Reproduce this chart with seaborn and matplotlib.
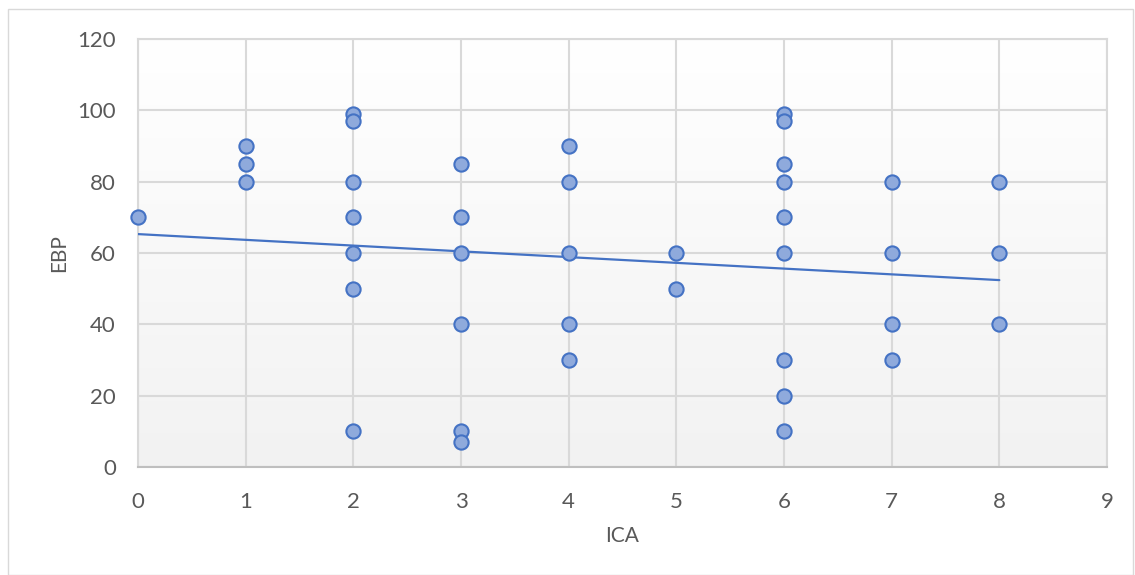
import matplotlib
matplotlib.use('Agg')
import matplotlib.pyplot as plt
import seaborn as sns
import pandas as pd
import numpy as np
from matplotlib.patches import Rectangle

# ICA / EBP pairs
ica = [0,
       1, 1, 1,
       2, 2, 2, 2, 2, 2, 2,
       3, 3, 3, 3, 3, 3,
       4, 4, 4, 4, 4,
       5, 5,
       6, 6, 6, 6, 6, 6, 6, 6, 6,
       7, 7, 7, 7,
       8, 8, 8]
ebp = [70,
       90, 85, 80,
       99, 97, 80, 70, 60, 50, 10,
       85, 70, 60, 40, 10, 7,
       90, 80, 60, 40, 30,
       60, 50,
       99, 97, 85, 80, 70, 60, 30, 20, 10,
       80, 60, 40, 30,
       80, 60, 40]

# linear trendline as drawn in the chart
trend_x = [0, 8]
trend_y = [65.3, 52.4]

x_ticks = list(range(0, 10))
y_ticks = list(range(0, 121, 20))

df = pd.DataFrame({'ICA': ica, 'EBP': ebp})

sns.set_style('white')
plt.rcParams['font.family'] = ['Lato', 'DejaVu Sans']

fig = plt.figure(figsize=(11.35, 5.75), dpi=100)
ax = fig.add_axes([138 / 1135, 1 - 467 / 575, (1107 - 138) / 1135, (467 - 39) / 575])

# outer chart border
fig.patches.append(Rectangle((8 / 1135, 0), 1125 / 1135, 566 / 575, transform=fig.transFigure,
                             fill=False, edgecolor='#d9d9d9', linewidth=1))

# gradient plot-area fill
grad = np.linspace(1, 0, 256).reshape(-1, 1)
ax.imshow(grad, extent=[0, 1, 0, 1], transform=ax.transAxes, aspect='auto',
          cmap=matplotlib.colors.LinearSegmentedColormap.from_list('g', ['#f2f2f2', '#ffffff']),
          zorder=0, interpolation='bicubic')

ax.set_xlim(0, 9)
ax.set_ylim(0, 120)
ax.set_xticks(x_ticks)
ax.set_yticks(y_ticks)
ax.grid(True, color='#d9d9d9', linewidth=1.5, zorder=1)
ax.set_axisbelow(True)

sns.scatterplot(data=df, x='ICA', y='EBP', ax=ax, s=105, color='#8faadc',
                edgecolor='#4472c4', linewidth=1.5, zorder=4, clip_on=False)
ax.plot(trend_x, trend_y, color='#4472c4', linewidth=1.6, zorder=3)

for side in ['top', 'right', 'left']:
    ax.spines[side].set_color('#d9d9d9')
ax.spines['bottom'].set_color('#bfbfbf')
for sp in ax.spines.values():
    sp.set_linewidth(1.5)

ax.tick_params(axis='both', length=0, labelsize=16, labelcolor='#595959')
ax.tick_params(axis='y', pad=16)
ax.tick_params(axis='x', pad=18)
ax.set_xlabel('ICA', fontsize=15, color='#595959', labelpad=10)
ax.set_ylabel('EBP', fontsize=15, color='#595959', labelpad=6)

plt.savefig('out.png', dpi=100)
